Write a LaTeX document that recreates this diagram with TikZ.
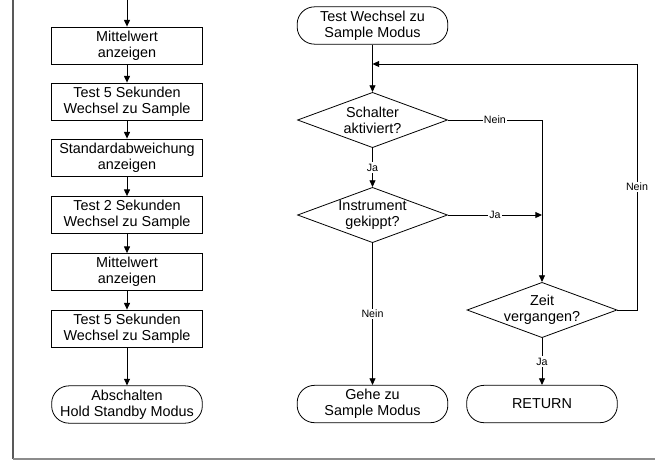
\documentclass[tikz,border=0pt]{standalone}
\usepackage{fontspec}
\setmainfont{Liberation Sans}
\usetikzlibrary{shapes.geometric,arrows.meta}
\begin{document}
\begin{tikzpicture}[x=0.75pt,y=-0.75pt,
  every node/.style={font=\fontsize{10.8}{12.2}\selectfont, align=center},
  procbox/.style={draw, line width=0.6pt, minimum width=113.25pt, minimum height=27.75pt, inner sep=0pt},
  termbox/.style={draw, line width=0.6pt, rounded corners=13pt, minimum width=113pt, minimum height=28pt, inner sep=0pt},
  decbox/.style={draw, diamond, line width=0.6pt, minimum width=112.5pt, minimum height=41.5pt, inner sep=0pt},
  flow/.style={line width=0.7pt, -{Triangle[length=5pt,width=4.5pt]}},
  link/.style={line width=0.7pt},
  lbl/.style={fill=white, inner sep=1pt, font=\fontsize{8}{9}\selectfont},
  framel/.style={line width=1.4pt, black!65},
  frameb/.style={line width=1.4pt, black!45}]

\useasboundingbox (0,0) rectangle (655,461);

% page frame
\coordinate (ftop) at (13,0);
\coordinate (fcorner) at (13,459);
\coordinate (fend) at (655,459);
\draw[framel] (ftop) -- (fcorner);
\draw[frameb] (fcorner) -- (fend);

% left column: display sequence
\coordinate (in) at (127,0);
\node[procbox] (a1) at (127,45.5) {Mittelwert\\anzeigen};
\node[procbox] (a2) at (127,101.5) {Test 5 Sekunden\\Wechsel zu Sample};
\node[procbox] (a3) at (127,157.5) {Standardabweichung\\anzeigen};
\node[procbox] (a4) at (127,215) {Test 2 Sekunden\\Wechsel zu Sample};
\node[procbox] (a5) at (127,272) {Mittelwert\\anzeigen};
\node[procbox] (a6) at (127,328.5) {Test 5 Sekunden\\Wechsel zu Sample};
\node[termbox] (a7) at (127,404.5) {Abschalten\\Hold Standby Modus};

\draw[flow] (in) -- (a1);
\draw[flow] (a1) -- (a2);
\draw[flow] (a2) -- (a3);
\draw[flow] (a3) -- (a4);
\draw[flow] (a4) -- (a5);
\draw[flow] (a5) -- (a6);
\draw[flow] (a6) -- (a7);

% right column: test for change to sample mode
\node[termbox] (s) at (372.5,25.5) {Test Wechsel zu\\Sample Modus};
\coordinate (loop) at (372.5,64);
\node[decbox] (d1) at (372.5,120) {};
\node at (d1) {Schalter\\aktiviert?};
\node[decbox] (d2) at (372.5,215) {};
\node at (d2) {Instrument\\gekippt?};
\node[decbox] (d3) at (542,310) {};
\node at (d3) {Zeit\\vergangen?};
\node[termbox] (g) at (372.5,404) {Gehe zu\\Sample Modus};
\node[termbox] (r) at (542,404) {RETURN};

\coordinate (c1) at (542,120);
\coordinate (c2) at (637,310);
\coordinate (c3) at (637,64);

\draw[link] (s) -- (loop);
\draw[flow] (loop) -- (d1.north);
\draw[link] (d1.east) -- node[lbl]{Nein} (c1);
\draw[flow] (c1) -- (d3.north);
\draw[flow] (d1.south) -- node[lbl]{Ja} (d2.north);
\draw[flow] (d2.east) -- node[lbl]{Ja} (d2.east -| c1);
\draw[flow] (d2.south) -- node[lbl]{Nein} (g.north);
\draw[flow] (d3.south) -- node[lbl]{Ja} (r.north);
\draw[link] (d3.east) -- (c2) -- node[lbl]{Nein} (c3);
\draw[flow] (c3) -- (loop);

\end{tikzpicture}
\end{document}
